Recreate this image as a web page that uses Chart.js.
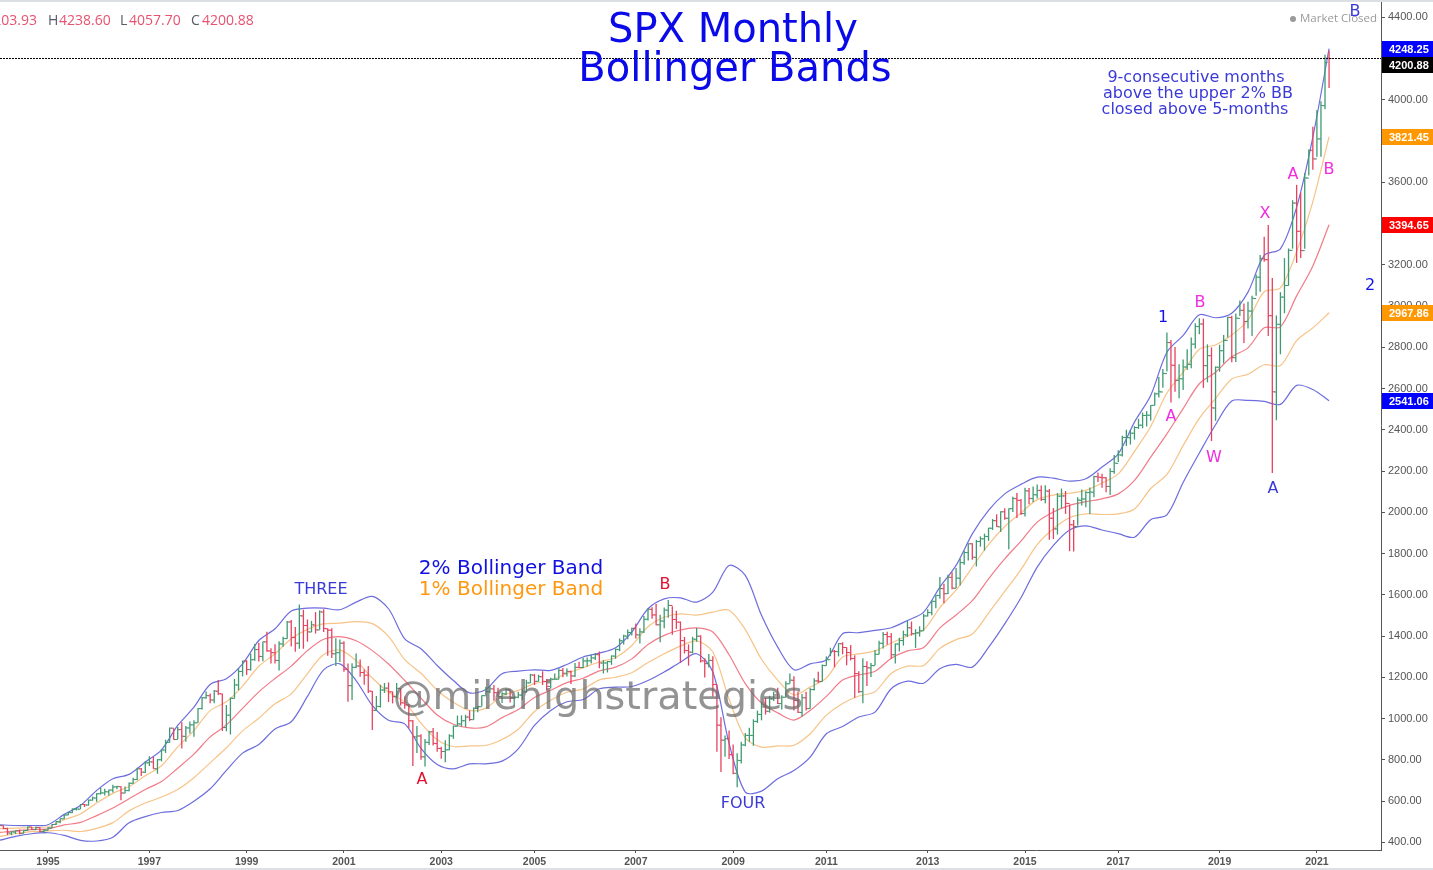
<!DOCTYPE html>
<html>
<head>
<meta charset="utf-8">
<title>SPX Monthly Bollinger Bands</title>
<script src="https://cdn.jsdelivr.net/npm/chart.js@4/dist/chart.umd.min.js"></script>
<style>
  html, body { margin: 0; padding: 0; background: #fff; overflow: hidden; }
  canvas { display: block; }
</style>
</head>
<body>
<canvas id="spx" width="1433" height="870"></canvas>
<script>
// monthly bars, month 0 is Jan 1995, first bar is Jan 1994
var firstMonth = -12;
var opens = [
  466,481,467,445,450,456,444,458,475,462,472,453,
  459,470,487,500,514,533,544,562,561,584,581,605,
  615,636,640,645,654,669,670,639,651,687,705,757,
  740,786,790,757,801,848,885,954,899,947,914,955,
  970,980,1049,1101,1111,1090,1133,1120,957,1017,1098,1163,
  1229,1279,1238,1286,1335,1301,1372,1328,1320,1282,1362,1388,
  1469,1394,1366,1498,1452,1420,1454,1430,1517,1436,1429,1314,
  1320,1366,1239,1160,1249,1255,1224,1211,1133,1040,1059,1139,
  1148,1130,1106,1147,1076,1067,989,911,916,815,885,936,
  879,855,841,849,916,963,974,990,1008,995,1050,1058,
  1111,1131,1144,1126,1107,1120,1140,1101,1104,1114,1130,1173,
  1211,1181,1203,1180,1156,1191,1191,1234,1220,1228,1207,1249,
  1248,1280,1280,1294,1310,1270,1270,1276,1303,1335,1377,1400,
  1418,1438,1406,1420,1482,1530,1503,1455,1473,1526,1549,1481,
  1468,1378,1330,1322,1385,1400,1280,1267,1282,1166,968,896,
  903,825,735,797,872,919,919,987,1020,1057,1036,1095,
  1115,1073,1104,1169,1186,1089,1030,1101,1049,1141,1183,1180,
  1257,1286,1327,1325,1363,1345,1320,1292,1218,1131,1253,1246,
  1257,1312,1365,1408,1397,1310,1362,1379,1406,1440,1412,1416,
  1426,1498,1514,1569,1597,1630,1606,1685,1632,1681,1756,1805,
  1848,1782,1859,1872,1883,1923,1960,1930,2003,1972,2018,2067,
  2058,1994,2104,2067,2085,2107,2063,2103,1972,1920,2079,2080,
  2043,1940,1932,2059,2065,2096,2098,2173,2170,2168,2126,2198,
  2238,2278,2363,2362,2384,2411,2423,2470,2471,2519,2575,2584,
  2673,2823,2713,2640,2648,2705,2718,2816,2901,2913,2711,2760,
  2506,2704,2784,2834,2945,2750,2941,2980,2926,2976,3037,3140,
  3230,3225,2954,2584,2912,3044,3100,3271,3500,3363,3269,3621,
  3756,3714,3811,3972,4203.93
];
var highs = [
  483,482,471,453,458,463,459,477,476,476,474,464,
  473,489,503,515,535,549,564,566,586,587,608,622,
  639,664,660,656,680,675,672,671,691,714,762,761,
  794,818,815,804,851,898,957,954,960,983,964,986,
  992,1050,1105,1132,1122,1139,1187,1121,1066,1103,1193,1245,
  1281,1283,1316,1362,1368,1373,1421,1341,1361,1375,1397,1474,
  1479,1444,1553,1528,1481,1474,1517,1525,1531,1437,1439,1390,
  1384,1376,1268,1269,1316,1287,1239,1256,1134,1110,1164,1173,
  1176,1131,1173,1147,1107,1070,993,965,925,901,941,955,
  935,864,895,924,966,1015,1016,1019,1040,1054,1063,1112,
  1155,1159,1163,1150,1128,1146,1141,1109,1131,1142,1188,1217,
  1217,1213,1230,1192,1199,1219,1245,1246,1243,1234,1270,1276,
  1295,1297,1310,1319,1326,1284,1280,1306,1340,1389,1407,1432,
  1441,1461,1438,1498,1535,1540,1556,1504,1539,1576,1545,1523,
  1471,1396,1360,1397,1440,1405,1293,1313,1303,1167,1007,919,
  943,875,832,888,930,956,997,1039,1081,1101,1111,1130,
  1150,1113,1181,1219,1206,1132,1120,1130,1149,1196,1227,1263,
  1302,1344,1333,1366,1371,1346,1357,1308,1230,1293,1278,1270,
  1333,1378,1420,1422,1415,1364,1392,1427,1475,1471,1434,1448,
  1509,1530,1574,1598,1687,1654,1698,1710,1730,1776,1814,1849,
  1850,1867,1884,1897,1925,1968,1991,2006,2020,2019,2076,2094,
  2065,2120,2118,2126,2135,2130,2132,2113,2021,2094,2116,2104,
  2038,1963,2073,2111,2103,2121,2178,2194,2188,2170,2214,2278,
  2301,2372,2401,2399,2418,2454,2484,2491,2520,2582,2657,2695,
  2872,2836,2802,2718,2742,2791,2848,2917,2941,2940,2815,2800,
  2708,2813,2860,2949,2954,2964,3028,3013,3022,3050,3154,3248,
  3337,3394,3137,2955,3068,3233,3280,3514,3588,3550,3646,3760,
  3870,3951,3994,4219,4238.60
];
var lows = [
  466,464,436,435,441,439,444,457,460,460,449,445,
  459,470,484,493,513,532,543,555,562,572,579,603,
  597,632,627,627,642,658,605,639,648,685,703,722,
  737,770,757,733,793,834,884,899,902,855,888,928,
  912,980,1044,1097,1075,1075,1115,940,939,923,1098,1138,
  1205,1212,1234,1281,1277,1279,1325,1268,1268,1233,1349,1387,
  1350,1325,1339,1339,1373,1420,1413,1431,1420,1305,1294,1255,
  1275,1228,1082,1091,1246,1203,1165,1124,945,1037,1054,1125,
  1081,1074,1103,1064,1048,952,771,833,801,768,872,870,
  840,806,789,847,902,963,962,960,988,995,1031,1060,
  1112,1124,1087,1107,1076,1113,1078,1060,1099,1090,1127,1173,
  1163,1180,1163,1136,1146,1191,1191,1201,1205,1168,1202,1246,
  1245,1253,1268,1285,1245,1219,1224,1261,1290,1327,1360,1385,
  1403,1389,1364,1416,1476,1485,1453,1371,1439,1489,1407,1435,
  1270,1316,1257,1317,1373,1272,1200,1248,1107,840,741,815,
  805,730,667,783,866,888,869,979,992,1020,1029,1086,
  1071,1045,1105,1170,1040,1028,1011,1040,1049,1137,1173,1180,
  1257,1303,1249,1302,1312,1259,1282,1101,1125,1075,1159,1202,
  1259,1312,1340,1358,1291,1267,1326,1354,1396,1403,1343,1398,
  1426,1495,1502,1536,1581,1560,1604,1627,1633,1646,1746,1767,
  1770,1738,1834,1815,1862,1915,1930,1905,1965,1821,2002,1973,
  1988,1980,2040,2049,2068,2056,2044,1867,1871,1893,2020,1993,
  1812,1810,1937,2034,2025,1992,2074,2148,2120,2098,2084,2187,
  2245,2271,2322,2329,2353,2405,2408,2417,2446,2520,2557,2605,
  2683,2533,2585,2553,2594,2691,2699,2795,2864,2604,2631,2346,
  2444,2682,2722,2848,2728,2729,2952,2822,2892,2856,3050,3070,
  3215,2855,2191,2447,2767,2966,3100,3279,3210,3234,3279,3633,
  3662,3725,3724,3955,4057.70
];
var closes = [
  482,467,446,451,457,444,458,475,463,472,454,459,
  470,487,501,515,533,545,562,562,584,582,605,616,
  636,640,646,654,669,671,640,652,687,705,757,741,
  786,791,757,801,848,885,954,899,947,915,955,970,
  980,1049,1102,1112,1091,1134,1121,957,1017,1099,1164,1229,
  1280,1238,1286,1335,1302,1373,1329,1320,1283,1363,1389,1469,
  1394,1366,1499,1452,1421,1455,1431,1518,1437,1429,1315,1320,
  1366,1240,1160,1249,1256,1224,1211,1134,1041,1060,1139,1148,
  1130,1107,1147,1077,1067,990,912,916,815,886,936,880,
  856,841,849,917,964,975,990,1008,996,1051,1058,1112,
  1131,1145,1126,1107,1121,1141,1102,1104,1115,1130,1174,1212,
  1181,1204,1181,1157,1192,1191,1234,1220,1229,1207,1249,1248,
  1280,1281,1295,1311,1270,1270,1277,1304,1336,1378,1401,1418,
  1438,1407,1421,1482,1531,1503,1455,1474,1527,1549,1481,1468,
  1379,1331,1323,1386,1400,1280,1267,1283,1166,969,896,903,
  826,735,798,873,919,919,987,1021,1057,1036,1096,1115,
  1074,1104,1169,1187,1089,1031,1102,1049,1141,1183,1181,1258,
  1286,1327,1326,1364,1345,1321,1292,1219,1131,1253,1247,1258,
  1312,1366,1408,1398,1310,1362,1379,1407,1441,1412,1416,1426,
  1498,1515,1569,1598,1631,1606,1686,1633,1682,1757,1806,1848,
  1783,1859,1872,1884,1924,1960,1931,2003,1972,2018,2068,2059,
  1995,2105,2068,2086,2107,2063,2104,1972,1920,2079,2080,2044,
  1940,1932,2060,2065,2097,2099,2174,2171,2168,2126,2199,2239,
  2279,2364,2363,2384,2412,2423,2470,2472,2519,2575,2585,2674,
  2824,2714,2641,2648,2705,2718,2816,2902,2914,2712,2760,2507,
  2704,2784,2834,2946,2751,2942,2980,2926,2977,3038,3141,3231,
  3226,2954,2585,2912,3044,3100,3271,3500,3363,3270,3622,3756,
  3714,3811,3973,4181,4200.88
];

// bands read every 4 months off the picture
var bandMonths = [
  -12,-8,-4,0,4,8,12,16,20,24,28,32,36,40,44,48,52,56,60,64,68,72,76,80,84,88,92,96,100,104,
  108,112,116,120,124,128,132,136,140,144,148,152,156,160,164,168,172,176,180,184,188,192,196,200,
  204,208,212,216,220,224,228,232,236,240,244,248,252,256,260,264,268,272,276,280,284,288,292,296,
  300,304,308,312,316
];
var upper2 = [
  486,482,482,486,536,579,652,709,730,790,849,967,1056,1166,1194,1266,1379,1436,1522,1536,1536,1528,1565,1593,1533,1387,1339,1258,1185,1125,
  1142,1218,1231,1237,1234,1263,1299,1318,1344,1420,1533,1581,1586,1565,1614,1743,1695,1501,1347,1237,1266,1286,1412,1417,
  1428,1441,1476,1517,1638,1743,1896,2010,2090,2136,2171,2166,2152,2163,2220,2284,2438,2567,2777,2858,2958,2944,2966,3068,
  3246,3278,3480,3820,4248.25
];
var upper1 = [
  467,469,472,476,510,538,591,638,671,723,772,863,942,1039,1082,1158,1254,1315,1388,1433,1460,1463,1471,1461,1399,1286,1220,1138,1079,1040,
  1051,1111,1137,1170,1186,1219,1247,1275,1297,1355,1446,1492,1508,1502,1517,1526,1432,1288,1187,1115,1153,1197,1299,1314,
  1329,1367,1402,1431,1539,1623,1734,1844,1932,1998,2062,2084,2093,2107,2143,2187,2296,2417,2579,2680,2791,2812,2860,2933,
  3070,3089,3265,3507,3821.45
];
var basis = [
  448,456,462,466,485,497,530,567,612,657,695,760,828,912,970,1050,1130,1195,1255,1330,1385,1398,1378,1330,1265,1185,1100,1018,973,955,
  960,1005,1044,1103,1138,1175,1196,1232,1250,1290,1360,1404,1430,1440,1420,1310,1170,1076,1028,993,1040,1108,1187,1212,
  1230,1293,1329,1345,1440,1503,1572,1678,1775,1861,1953,2002,2034,2052,2066,2090,2155,2268,2381,2503,2624,2680,2755,2798,
  2895,2900,3050,3195,3394.65
];
var lower1 = [
  429,442,452,456,459,453,468,496,553,591,620,657,714,786,859,941,1002,1072,1120,1219,1311,1332,1281,1197,1128,1080,978,898,865,868,
  870,899,949,1035,1089,1128,1144,1188,1201,1223,1272,1315,1352,1377,1323,1095,907,862,868,871,927,1017,1074,1110,
  1131,1219,1255,1258,1341,1383,1411,1512,1617,1723,1844,1921,1974,1993,1990,1993,2017,2116,2184,2324,2456,2552,2647,2670,
  2716,2712,2833,2895,2967.86
];
var lower2 = [
  410,429,442,447,434,410,407,425,495,525,545,555,600,660,749,833,875,950,985,1108,1237,1266,1185,1064,992,975,856,778,757,781,
  781,794,854,967,1040,1082,1093,1145,1153,1156,1185,1226,1274,1315,1226,880,644,649,709,749,814,927,962,1008,
  1032,1145,1182,1172,1242,1263,1250,1346,1460,1586,1735,1840,1915,1935,1915,1897,1880,1965,1988,2145,2288,2425,2540,2543,
  2538,2524,2616,2596,2541.06
];

var lastClose = 4200.88;
var yearLabels = ['1995','1997','1999','2001','2003','2005','2007','2009','2011','2013','2015','2017','2019','2021'];
var yearMonths = [0,25,49,73,97,120,145,169,192,217,241,264,289,313];
var priceTicks = [400,600,800,1000,1200,1400,1600,1800,2000,2200,2400,2600,2800,3000,3200,3400,3600,3800,4000,4200,4400];

// price tags on the right axis
var tagValues = [4248.25, 4200.88, 3821.45, 3394.65, 2967.86, 2541.06];
var tagColors = ['#0000ff', '#000000', '#ff9800', '#ff0000', '#ff9800', '#0000ff'];
var tagShift = [0, 7, 0, 0, 0, 0];

var BLUE = '#1414e6';
var SOFT_BLUE = '#3a3ad8';
var PINK = '#f02de0';
var RED_TEXT = '#e01030';
var notes = [
  ['SPX Monthly', 733, 32, '#0a0ae8', '40px "DejaVu Sans"'],
  ['Bollinger Bands', 735, 71, '#0a0ae8', '40px "DejaVu Sans"'],
  ['9-consecutive months', 1196, 78, SOFT_BLUE, '16px "DejaVu Sans"'],
  ['above the upper 2% BB', 1198, 94, SOFT_BLUE, '16px "DejaVu Sans"'],
  ['closed above 5-months', 1195, 110, SOFT_BLUE, '16px "DejaVu Sans"'],
  ['THREE', 321, 590, SOFT_BLUE, '16px "DejaVu Sans"'],
  ['2% Bollinger Band', 511, 569, '#1010e0', '20px "DejaVu Sans"'],
  ['1% Bollinger Band', 511, 590, '#ff9810', '20px "DejaVu Sans"'],
  ['B', 665, 585, RED_TEXT, '16px "DejaVu Sans"'],
  ['A', 422, 780, RED_TEXT, '16px "DejaVu Sans"'],
  ['FOUR', 743, 804, SOFT_BLUE, '16px "DejaVu Sans"'],
  ['1', 1163, 318, BLUE, '16px "DejaVu Sans"'],
  ['B', 1200, 303, PINK, '16px "DejaVu Sans"'],
  ['A', 1171, 417, PINK, '16px "DejaVu Sans"'],
  ['W', 1214, 458, PINK, '16px "DejaVu Sans"'],
  ['X', 1265, 214, PINK, '16px "DejaVu Sans"'],
  ['A', 1273, 489, SOFT_BLUE, '16px "DejaVu Sans"'],
  ['A', 1293, 175, PINK, '16px "DejaVu Sans"'],
  ['B', 1329, 170, PINK, '16px "DejaVu Sans"'],
  ['B', 1355, 12, SOFT_BLUE, '16px "DejaVu Sans"'],
  ['2', 1370, 286, BLUE, '16px "DejaVu Sans"']
];

function monthOf(i){
  return firstMonth + i;
}
function barColor(i){
  return closes[i] < opens[i] ? '#e6425f' : '#3f9a72';
}
function getWicks(){
  var list = [];
  for(var i=0;i<highs.length;i++){
    list.push({x: monthOf(i), y: [lows[i], highs[i]]});
  }
  return list;
}
function getTicks(values, shift){
  var list = [];
  for(var i=0;i<values.length;i++){
    list.push({x: monthOf(i) + shift, y: values[i]});
  }
  return list;
}
function getBand(values){
  var list = [];
  for(var i=0;i<values.length;i++){
    list.push({x: bandMonths[i], y: values[i]});
  }
  return list;
}
function bandSet(values, color){
  return {
    type: 'line',
    data: getBand(values),
    borderColor: color,
    borderWidth: 1.2,
    pointRadius: 0,
    tension: 0.3,
    order: 3
  };
}
function tickSet(values, shift, colors){
  return {
    type: 'scatter',
    data: getTicks(values, shift),
    showLine: false,
    pointStyle: 'line',
    pointRadius: 1.3,
    pointHoverRadius: 1.3,
    pointBorderWidth: 1,
    pointBorderColor: colors,
    order: 1
  };
}

// all the writing on top of the chart
var textPlugin = {
  id: 'chartTexts',
  afterDraw: function(chart){
    var ctx = chart.ctx;
    var yScale = chart.scales.y;
    ctx.save();
    // pane borders
    ctx.fillStyle = '#dcdfe3';
    ctx.fillRect(0, 0, 1433, 2);
    ctx.fillRect(0, 868, 1433, 2);

    ctx.textBaseline = 'middle';
    // ohlc header
    ctx.font = '14px "Open Sans"';
    ctx.textAlign = 'right';
    ctx.fillStyle = '#e8526e';
    ctx.fillText('4203.93', 37, 21);
    ctx.textAlign = 'left';
    ctx.fillText('4238.60', 59, 21);
    ctx.fillText('4057.70', 129, 21);
    ctx.fillText('4200.88', 202, 21);
    ctx.fillStyle = '#555b66';
    ctx.fillText('H', 48, 21);
    ctx.fillText('L', 120, 21);
    ctx.fillText('C', 191, 21);

    // market status
    ctx.fillStyle = '#9a9a9a';
    ctx.beginPath();
    ctx.arc(1293, 19, 3, 0, Math.PI * 2);
    ctx.fill();
    ctx.font = '11.5px "Open Sans"';
    ctx.fillText('Market Closed', 1300, 19);

    // notes
    ctx.textAlign = 'center';
    for(var i=0;i<notes.length;i++){
      ctx.fillStyle = notes[i][3];
      ctx.font = notes[i][4];
      ctx.fillText(notes[i][0], notes[i][1], notes[i][2]);
    }

    // watermark
    ctx.font = '39.8px "DejaVu Sans"';
    ctx.fillStyle = 'rgba(105,105,105,0.72)';
    ctx.fillText('@milehighstrategies', 598, 699);

    // axis tags
    ctx.textAlign = 'left';
    ctx.font = 'bold 11px "Liberation Sans"';
    for(var j=0;j<tagValues.length;j++){
      var py = Math.round(yScale.getPixelForValue(tagValues[j])) + tagShift[j];
      ctx.fillStyle = tagColors[j];
      ctx.fillRect(1382, py - 8, 51, 16);
      ctx.fillStyle = '#fff';
      ctx.fillText(tagValues[j].toFixed(2), 1389, py + 0.5);
    }
    ctx.restore();
  }
};

var ohlcColors = [];
for(var c=0;c<closes.length;c++){
  ohlcColors.push(barColor(c));
}

var datasets = [
  {
    type: 'bar',
    data: getWicks(),
    backgroundColor: ohlcColors,
    barThickness: 1.3,
    inflateAmount: 0,
    order: 2
  },
  tickSet(opens, -0.3, ohlcColors),
  tickSet(closes, 0.3, ohlcColors),
  bandSet(upper2, 'rgba(72,72,214,0.8)'),
  bandSet(upper1, 'rgba(245,180,105,0.8)'),
  bandSet(basis, 'rgba(238,90,105,0.8)'),
  bandSet(lower1, 'rgba(245,180,105,0.8)'),
  bandSet(lower2, 'rgba(72,72,214,0.8)'),
  {
    // last close line
    type: 'line',
    data: [{x: -11.84, y: lastClose}, {x: 328.81, y: lastClose}],
    borderColor: '#000',
    borderWidth: 1,
    borderDash: [2, 1],
    pointRadius: 0,
    order: 0
  }
];

new Chart(document.getElementById('spx'), {
  type: 'bar',
  data: {datasets: datasets},
  options: {
    responsive: false,
    animation: false,
    events: [],
    layout: {padding: 0, autoPadding: false},
    plugins: {
      legend: {display: false},
      title: {display: false},
      tooltip: {enabled: false}
    },
    scales: {
      x: {
        type: 'linear',
        offset: false,
        min: -11.84,
        max: 328.81,
        afterFit: function(scale){
          scale.height = 20;
          scale.paddingLeft = 0;
          scale.paddingRight = 0;
        },
        afterBuildTicks: function(scale){
          scale.ticks = yearMonths.map(function(m){ return {value: m}; });
        },
        grid: {offset: false, drawOnChartArea: false, tickLength: 3, tickColor: '#555'},
        border: {color: '#555', width: 1},
        ticks: {
          autoSkip: false,
          maxRotation: 0,
          padding: 3,
          color: '#555',
          font: {family: 'Liberation Sans', size: 10.5, weight: 'bold'},
          callback: function(value){
            return yearLabels[yearMonths.indexOf(value)];
          }
        }
      },
      y: {
        type: 'linear',
        position: 'right',
        min: 363.3,
        max: 4484.5,
        afterFit: function(scale){
          scale.width = 52;
          scale.paddingTop = 0;
          scale.paddingBottom = 0;
        },
        afterBuildTicks: function(scale){
          scale.ticks = priceTicks.map(function(p){ return {value: p}; });
        },
        grid: {drawOnChartArea: false, tickLength: 4, tickColor: '#555'},
        border: {color: '#555', width: 1},
        ticks: {
          autoSkip: false,
          padding: 3,
          color: '#555',
          font: {family: 'Liberation Sans', size: 11},
          callback: function(value){
            return value.toFixed(2);
          }
        }
      }
    }
  },
  plugins: [textPlugin]
});
</script>
</body>
</html>
